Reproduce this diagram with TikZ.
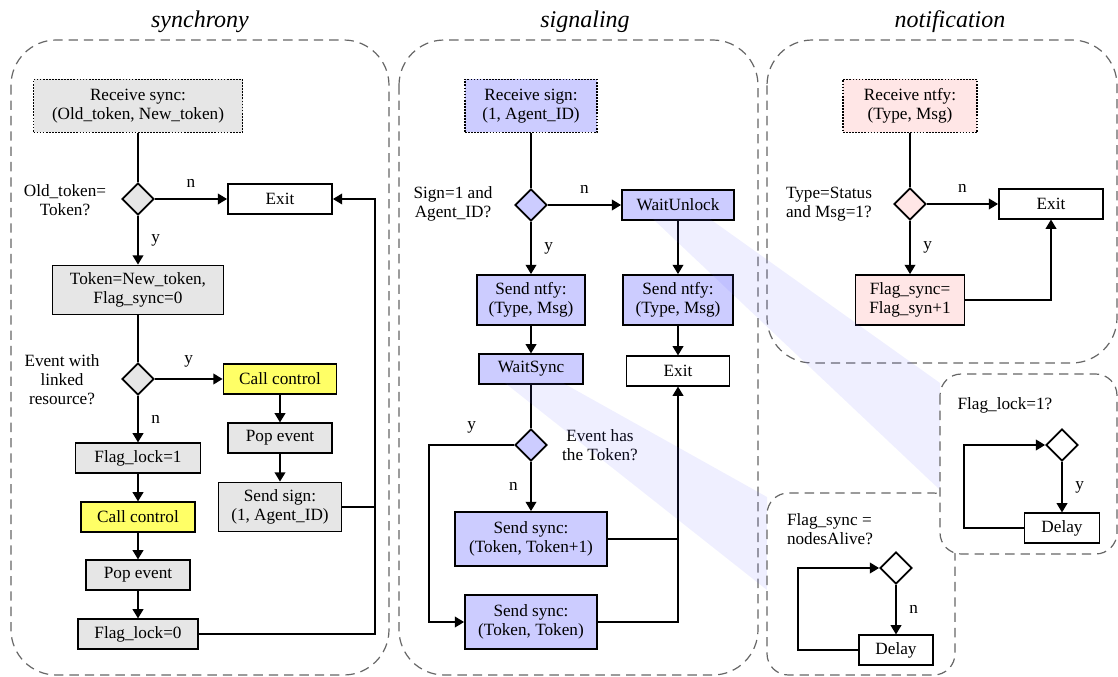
\documentclass[tikz,border=0pt]{standalone}
\usepackage{fontspec}
\setmainfont{Liberation Serif}
\usetikzlibrary{arrows.meta,shapes.geometric}

\definecolor{boxgray}{HTML}{E6E6E6}
\definecolor{callyellow}{HTML}{FFFF66}
\definecolor{siglav}{HTML}{CCCCFF}
\definecolor{ntfypink}{HTML}{FFE6E6}
\definecolor{panelgray}{HTML}{666666}

\begin{document}
\begin{tikzpicture}[x=0.75pt,y=-0.75pt,
  font=\fontsize{12.9}{14.3}\selectfont,
  box/.style={draw, line width=1.3pt, align=center, inner sep=2pt, minimum height=22pt},
  wd/.style={minimum width=#1*0.75pt},
  ht/.style={minimum height=#1*0.75pt},
  recv/.style={box, densely dotted, ht=53},
  dec/.style={diamond, draw, line width=1.3pt, minimum width=24pt, minimum height=24pt, inner sep=0pt},
  line/.style={line width=1.3pt},
  arr/.style={line, -{Triangle[length=7pt,width=8pt]}},
  panel/.style={draw=panelgray, line width=0.9pt, dash pattern=on 7pt off 4.5pt, rounded corners=#1},
  title/.style={font=\fontsize{18}{20}\selectfont\itshape},
  band/.style={fill=blue!60, fill opacity=0.1}]
  \useasboundingbox (0,0) rectangle (1118,677);

  \draw[panel=34pt] (11,40) rectangle (389,675);
  \draw[panel=34pt] (399,40) rectangle (758,675);
  \draw[panel=34pt] (767,40) rectangle (1117,363);
  \node[title] (t1) at (200,22) {synchrony};
  \node[title] (t2) at (585,22) {signaling};
  \node[title] (t3) at (950,22) {notification};

  % synchrony
  \node[recv, fill=boxgray, wd=209] (rs1) at (138,106) {Receive sync:\\(Old\_token, New\_token)};
  \node[dec, fill=boxgray] (d1) at (138,199) {};
  \node[align=center] (q1) at (65,200) {Old\_token=\\Token?};
  \node[box, wd=104] (ex1) at (280,199) {Exit};
  \node[box, fill=boxgray, wd=171, ht=49] (tk) at (138,290) {Token=New\_token,\\Flag\_sync=0};
  \node[dec, fill=boxgray] (d2) at (138,379) {};
  \node[align=center] (q2) at (62,380) {Event with\\linked\\resource?};
  \node[box, fill=callyellow, wd=113] (cc1) at (280,379) {Call control};
  \node[box, fill=boxgray, wd=104] (pe1) at (280,438) {Pop event};
  \node[box, fill=boxgray, wd=123, ht=49] (sg) at (280,507) {Send sign:\\(1, Agent\_ID)};
  \node[box, fill=boxgray, wd=125] (fl1) at (138,458) {Flag\_lock=1};
  \node[box, fill=callyellow, wd=114] (cc2) at (138,517) {Call control};
  \node[box, fill=boxgray, wd=104] (pe2) at (138,575) {Pop event};
  \node[box, fill=boxgray, wd=120] (fl0) at (138,634) {Flag\_lock=0};
  \coordinate (r1) at (375,199);

  \draw[line] (rs1) -- (d1);
  \draw[arr] (d1) -- node[above=5pt] {n} (ex1);
  \draw[arr] (d1) -- node[right=6pt] {y} (tk);
  \draw[line] (tk) -- (d2);
  \draw[arr] (d2) -- node[above=5pt] {y} (cc1);
  \draw[arr] (d2) -- node[right=6pt] {n} (fl1);
  \foreach \a/\b in {cc1/pe1, pe1/sg, fl1/cc2, cc2/pe2, pe2/fl0} \draw[arr] (\a) -- (\b);
  \draw[arr] (fl0) -| (r1) -- (ex1);
  \draw[line] (sg) -- (sg -| r1);

  % signaling
  \node[recv, fill=siglav, wd=132] (rs2) at (531,106) {Receive sign:\\(1, Agent\_ID)};
  \node[dec, fill=siglav] (d3) at (531,205) {};
  \node[align=center] (q3) at (453,204) {Sign=1 and\\Agent\_ID?};
  \node[box, fill=siglav, wd=112] (wu) at (678,205) {WaitUnlock};
  \node[box, fill=siglav, wd=108, ht=50] (sn1) at (531,300) {Send ntfy:\\(Type, Msg)};
  \node[box, fill=siglav, wd=110, ht=50] (sn2) at (678,300) {Send ntfy:\\(Type, Msg)};
  \node[box, fill=siglav, wd=104] (ws) at (531,369) {WaitSync};
  \node[box, wd=103] (ex2) at (678,371) {Exit};
  \node[dec, fill=siglav] (d4) at (531,445) {};
  \node[align=center] (q4) at (600,445) {Event has\\the Token?};
  \node[box, fill=siglav, wd=152, ht=54] (sy1) at (531,539) {Send sync:\\(Token, Token+1)};
  \node[box, fill=siglav, wd=132, ht=54] (sy2) at (531,622) {Send sync:\\(Token, Token)};
  \coordinate (c2) at (429,622);

  \draw[line] (rs2) -- (d3);
  \draw[arr] (d3) -- node[above=5pt] {n} (wu);
  \draw[arr] (d3) -- node[right=6pt] {y} (sn1);
  \draw[arr] (wu) -- (sn2);
  \draw[arr] (sn1) -- (ws);
  \draw[arr] (sn2) -- (ex2);
  \draw[line] (ws) -- (d4);
  \draw[arr] (d4) -- node[left=6pt] {n} (sy1);
  \draw[arr] (d4) -| node[pos=0.25, above=5pt] {y} (c2) -- (sy2);
  \draw[arr] (sy2) -| (ex2);
  \draw[line] (sy1) -- (sy1 -| ex2);

  % notification
  \node[recv, fill=ntfypink, wd=134] (rs3) at (910,106) {Receive ntfy:\\(Type, Msg)};
  \node[dec, fill=ntfypink] (d5) at (910,204) {};
  \node[align=left] (q5) at (829,204) {Type=Status\\and Msg=1?};
  \node[box, wd=104] (ex3) at (1051,204) {Exit};
  \node[box, fill=ntfypink, wd=109, ht=50] (fs) at (910,300) {Flag\_sync=\\Flag\_syn+1};

  \draw[line] (rs3) -- (d5);
  \draw[arr] (d5) -- node[above=5pt] {n} (ex3);
  \draw[arr] (d5) -- node[right=6pt] {y} (fs);
  \draw[arr] (fs) -| (ex3);

  \fill[band] (653,219) -- (710,219) -- (940,383) -- (940,490) -- cycle;
  \fill[band] (505,383) -- (563,383) -- (767,497) -- (767,590) -- cycle;

  % wait loops
  \draw[panel=16pt, fill=white] (767,493) rectangle (955,675);
  \node[align=left] (q7) at (830,529) {Flag\_sync =\\nodesAlive?};
  \node[dec] (d7) at (896,568) {};
  \node[box, wd=74] (dl2) at (896,650) {Delay};
  \coordinate (c5) at (798,568);
  \draw[arr] (d7) -- node[right=6pt] {n} (dl2);
  \draw[arr] (dl2) -| (c5) -- (d7);

  \draw[panel=16pt, fill=white] (940,374) rectangle (1117,554);
  \node (q6) at (1005,405) {Flag\_lock=1?};
  \node[dec] (d6) at (1062,445) {};
  \node[box, wd=75] (dl1) at (1062,528) {Delay};
  \coordinate (c4) at (964,445);
  \draw[arr] (d6) -- node[right=6pt] {y} (dl1);
  \draw[arr] (dl1) -| (c4) -- (d6);
\end{tikzpicture}
\end{document}
